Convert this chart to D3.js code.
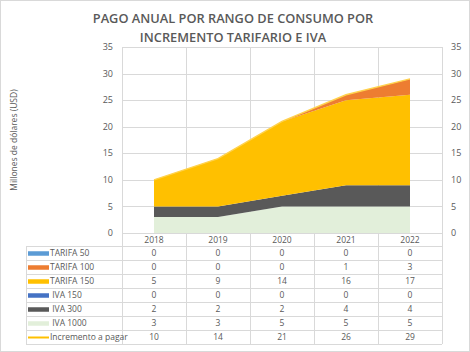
<!DOCTYPE html>
<html>
<head>
<meta charset="utf-8">
<script src="https://cdn.jsdelivr.net/npm/d3@7"></script>
<style>
  body { margin: 0; background: #fff; }
  svg { display: block; font-family: "Open Sans", "Noto Sans", sans-serif; }
</style>
</head>
<body>
<svg id="chart" width="470" height="352"></svg>
<script>
// --- data ---
const years = ["2018", "2019", "2020", "2021", "2022"];
const tarifa50 = [0, 0, 0, 0, 0];
const tarifa100 = [0, 0, 0, 1, 3];
const tarifa150 = [5, 9, 14, 16, 17];
const iva150 = [0, 0, 0, 0, 0];
const iva300 = [2, 2, 2, 4, 4];
const iva1000 = [3, 3, 5, 5, 5];
const incremento = [10, 14, 21, 26, 29];
const yTicks = [0, 5, 10, 15, 20, 25, 30, 35];

// table/legend order (top to bottom)
const series = [
  { name: "TARIFA 50", values: tarifa50, color: "#5B9BD5" },
  { name: "TARIFA 100", values: tarifa100, color: "#ED7D31" },
  { name: "TARIFA 150", values: tarifa150, color: "#FFC000" },
  { name: " IVA 150", values: iva150, color: "#4472C4" },
  { name: " IVA 300", values: iva300, color: "#595959" },
  { name: " IVA 1000", values: iva1000, color: "#E2EFDA" }
];
const lineSeries = { name: "Incremento a pagar", values: incremento, color: "#FFC000" };

const svg = d3.select("#chart");
const margin = { top: 47, left: 122, right: 28, bottom: 119 };
const W = 470, H = 352;
const plotBottom = H - margin.bottom;

// outer border
svg.append("rect").attr("x", 0.5).attr("y", 0.5).attr("width", W - 1).attr("height", H - 1)
  .attr("fill", "#fff").attr("stroke", "#D9D9D9");

const x = d3.scaleBand().domain(years).range([margin.left, W - margin.right]).padding(0);
const xc = d => x(d) + x.bandwidth() / 2;
const y = d3.scaleLinear().domain([0, 35]).range([plotBottom, margin.top]);

// --- data table geometry ---
const tableTop = 246, rowH = 14, tableLeft = 26;
const allRows = series.concat([lineSeries]);
const tableBottom = tableTop + rowH * allRows.length;

// gridlines
svg.append("g").selectAll("line").data(yTicks).join("line")
  .attr("x1", margin.left).attr("x2", W - margin.right)
  .attr("y1", d => Math.round(y(d)) + 0.5).attr("y2", d => Math.round(y(d)) + 0.5)
  .attr("stroke", "#D9D9D9");
// vertical lines (plot + table columns)
const vx = years.map(d => x(d)).concat([W - margin.right]);
svg.append("g").selectAll("line").data(vx).join("line")
  .attr("x1", d => Math.round(d) + 0.5).attr("x2", d => Math.round(d) + 0.5)
  .attr("y1", margin.top).attr("y2", tableBottom)
  .attr("stroke", "#D9D9D9");

// stacked areas (bottom to top)
const stackKeys = series.slice().reverse();
const rows = years.map((yr, i) => {
  const r = { year: yr };
  stackKeys.forEach(s => r[s.name] = s.values[i]);
  return r;
});
const stacked = d3.stack().keys(stackKeys.map(s => s.name))(rows);
const area = d3.area()
  .x(d => xc(d.data.year))
  .y0(d => y(d[0]))
  .y1(d => y(d[1]));
svg.append("g").selectAll("path").data(stacked).join("path")
  .attr("d", area)
  .attr("fill", (d, i) => stackKeys[i].color);

// line series
const line = d3.line().x((d, i) => xc(years[i])).y(d => y(d));
svg.append("path").datum(lineSeries.values)
  .attr("d", line)
  .attr("fill", "none")
  .attr("stroke", "#FFD24D")
  .attr("stroke-width", 1.5);

// y axes labels
const tickColor = "#595959";
svg.append("g").selectAll("text").data(yTicks).join("text")
  .attr("x", margin.left - 9).attr("y", d => y(d)).attr("dy", "0.35em")
  .attr("text-anchor", "end").attr("font-size", 9).attr("fill", tickColor)
  .text(d => d);
svg.append("g").selectAll("text").data(yTicks).join("text")
  .attr("x", W - margin.right + 9).attr("y", d => y(d)).attr("dy", "0.35em")
  .attr("text-anchor", "start").attr("font-size", 9).attr("fill", tickColor)
  .text(d => d);

// y title
svg.append("text")
  .attr("transform", `translate(14,${(margin.top + plotBottom) / 2}) rotate(-90)`)
  .attr("text-anchor", "middle").attr("dy", "0.35em")
  .attr("font-size", 8.5).attr("fill", tickColor)
  .text("Millones de dólares (USD)");

// title
const title = svg.append("text").attr("text-anchor", "middle")
  .attr("font-size", 12.8).attr("font-weight", 600).attr("fill", "#595959");
title.append("tspan").attr("x", 233).attr("y", 23).text("PAGO ANUAL POR RANGO DE CONSUMO POR");
title.append("tspan").attr("x", 233).attr("y", 42).text("INCREMENTO TARIFARIO E IVA");

// header years
svg.append("g").selectAll("text").data(years).join("text")
  .attr("x", d => xc(d)).attr("y", (plotBottom + tableTop) / 2 + 1).attr("dy", "0.35em")
  .attr("text-anchor", "middle").attr("font-size", 8.5).attr("fill", tickColor)
  .text(d => d);

// horizontal table lines
svg.append("g").selectAll("line").data(d3.range(allRows.length + 1)).join("line")
  .attr("x1", tableLeft).attr("x2", W - margin.right)
  .attr("y1", i => tableTop + i * rowH + 0.5).attr("y2", i => tableTop + i * rowH + 0.5)
  .attr("stroke", "#D9D9D9");
svg.append("line")
  .attr("x1", tableLeft + 0.5).attr("x2", tableLeft + 0.5)
  .attr("y1", tableTop).attr("y2", tableBottom).attr("stroke", "#D9D9D9");

// legend keys + labels + values
const rowG = svg.append("g").selectAll("g").data(allRows).join("g")
  .attr("transform", (d, i) => `translate(0,${tableTop + i * rowH + rowH / 2})`);
rowG.append("line")
  .attr("x1", 28).attr("x2", 49).attr("y1", 0.5).attr("y2", 0.5)
  .attr("stroke", d => d.color)
  .attr("stroke-width", d => d === lineSeries ? 2 : 4.5);
rowG.append("text")
  .attr("x", 50).attr("dy", "0.35em").attr("font-size", 8.5).attr("fill", tickColor)
  .attr("xml:space", "preserve")
  .text(d => d.name);
rowG.each(function (s) {
  d3.select(this).selectAll("text.val").data(s.values).join("text")
    .attr("class", "val")
    .attr("x", (v, i) => xc(years[i])).attr("dy", "0.35em")
    .attr("text-anchor", "middle").attr("font-size", 8.5).attr("fill", tickColor)
    .text(v => v);
});
</script>
</body>
</html>
